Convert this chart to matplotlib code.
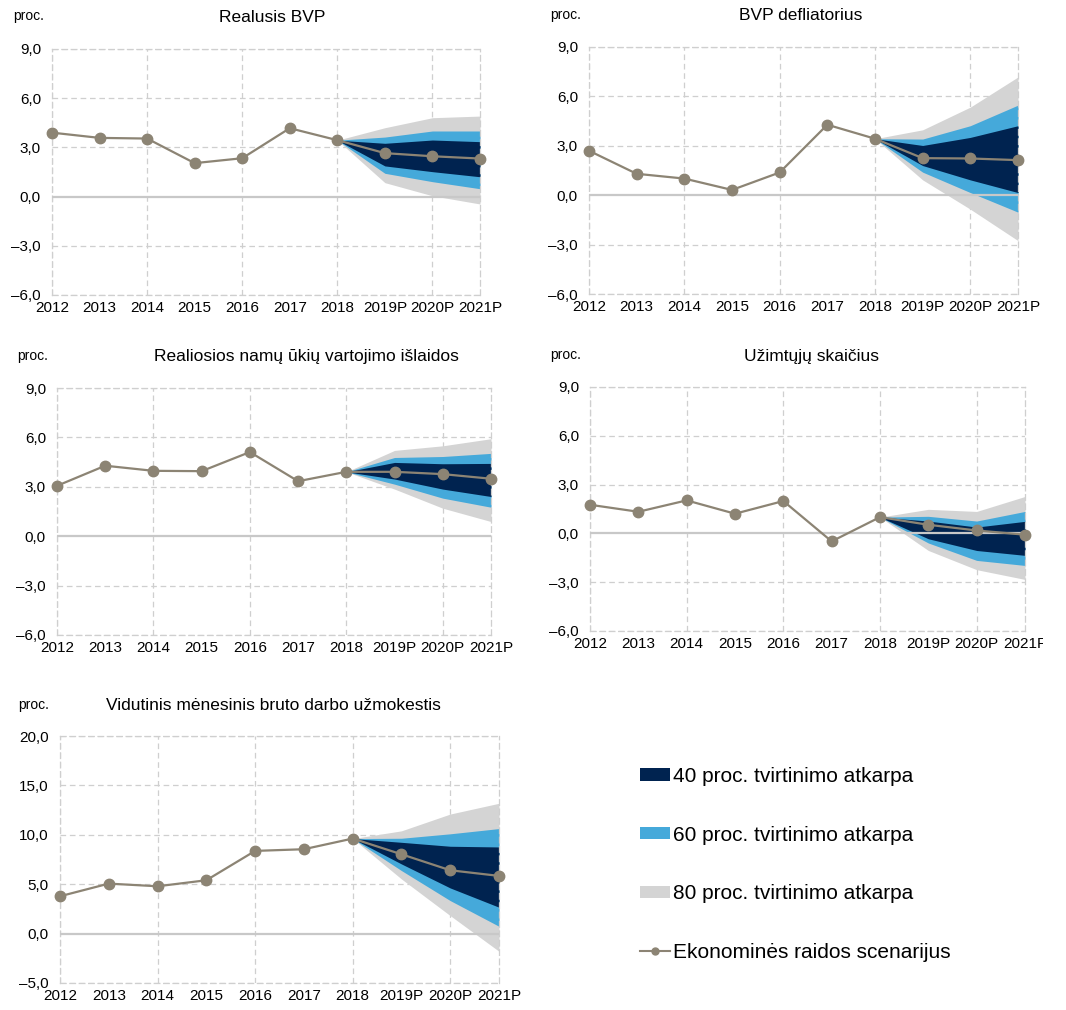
import numpy as np
import matplotlib
matplotlib.use('Agg')
import matplotlib.pyplot as plt
from matplotlib.patches import Patch
from matplotlib.lines import Line2D
from matplotlib.transforms import Bbox, TransformedBbox

plt.rcParams['font.family'] = ['Liberation Sans', 'DejaVu Sans']

years = ['2012', '2013', '2014', '2015', '2016', '2017', '2018', '2019P', '2020P', '2021P']

# scenario line + fan bounds for 2019P-2021P, as [lower, upper]
gdp_line = [3.9, 3.58, 3.54, 2.04, 2.34, 4.17, 3.44, 2.65, 2.46, 2.32]
gdp_40 = [[1.87, 1.52, 1.21], [3.25, 3.45, 3.35]]
gdp_60 = [[1.42, 0.91, 0.48], [3.63, 4.0, 4.0]]
gdp_80 = [[0.85, 0.05, -0.45], [4.2, 4.81, 4.91]]

defl_line = [2.7, 1.3, 1.01, 0.32, 1.38, 4.28, 3.43, 2.25, 2.23, 2.13]
defl_40 = [[1.8, 0.93, 0.16], [3.02, 3.51, 4.22]]
defl_60 = [[1.4, 0.16, -1.03], [3.41, 4.22, 5.47]]
defl_80 = [[0.93, -0.85, -2.76], [3.97, 5.35, 7.18]]

cons_line = [3.06, 4.28, 3.97, 3.95, 5.11, 3.34, 3.91, 3.91, 3.77, 3.49]
cons_40 = [[3.47, 2.86, 2.41], [4.48, 4.4, 4.42]]
cons_60 = [[3.16, 2.31, 1.76], [4.78, 4.84, 5.03]]
cons_80 = [[2.86, 1.7, 0.89], [5.21, 5.49, 5.92]]

empl_line = [1.76, 1.33, 2.03, 1.21, 1.99, -0.49, 1.0, 0.53, 0.18, -0.08]
empl_40 = [[-0.33, -1.05, -1.35], [0.76, 0.39, 0.74]]
empl_60 = [[-0.59, -1.66, -1.97], [1.05, 0.76, 1.35]]
empl_80 = [[-1.05, -2.23, -2.83], [1.48, 1.35, 2.27]]

wage_line = [3.78, 5.06, 4.79, 5.4, 8.37, 8.54, 9.62, 8.03, 6.41, 5.84]
wage_40 = [[7.05, 4.62, 2.67], [9.24, 8.84, 8.77]]
wage_60 = [[6.38, 3.34, 0.74], [9.65, 10.1, 10.63]]
wage_80 = [[5.53, 1.82, -1.79], [10.4, 12.1, 13.19]]

labels = ['40 proc. tvirtinimo atkarpa', '60 proc. tvirtinimo atkarpa',
          '80 proc. tvirtinimo atkarpa', 'Ekonominės raidos scenarijus']

c_dark = '#002350'
c_blue = '#45A9DA'
c_grey = '#D4D4D4'
c_line = '#8C8474'
c_grid = '#CFCFCF'

W, H = 1066, 1010
fig = plt.figure(figsize=(W / 100, H / 100), dpi=100)


def add_axes_px(left, top, right, bottom):
    return fig.add_axes([left / W, 1 - bottom / H, (right - left) / W, (bottom - top) / H])


def fmt(v):
    s = f'{v:.1f}'.replace('.', ',')
    return s.replace('-', '\u2013')


def draw_panel(ax, title, line, b40, b60, b80, ylim, yticks, title_xy, proc_xy):
    x = np.arange(len(years))
    xf = x[6:]
    start = line[6]
    for band, col in [(b80, c_grey), (b60, c_blue), (b40, c_dark)]:
        lo = [start] + band[0]
        hi = [start] + band[1]
        ax.fill_between(xf, lo, hi, color=col, lw=0, zorder=2)
    ax.axhline(0, color='#C8C8C8', lw=1.6, zorder=3)
    ax.plot(x, line, color=c_line, lw=1.6, marker='o', markersize=7.5,
            zorder=5, clip_on=False)

    ax.set_xlim(0, 9)
    ax.set_ylim(*ylim)
    ax.set_xticks(x)
    ax.set_xticklabels(years, fontsize=11)
    ax.set_yticks(yticks)
    ax.set_yticklabels([fmt(v) for v in yticks], fontsize=11)
    ax.tick_params(length=0)
    ax.tick_params(axis='y', pad=8)
    ax.tick_params(axis='x', pad=4)
    dash = (0, (4.5, 3))
    for v in yticks:
        if v != 0:
            ax.axhline(v, color=c_grid, lw=0.9, ls=dash, zorder=1)
    for i in range(0, 10, 2):
        ax.axvline(i, color=c_grid, lw=0.9, ls=dash, zorder=1)
    for s in ax.spines.values():
        s.set_color(c_grid)
        s.set_linewidth(0.9)
        s.set_linestyle(dash)
    fig.text(title_xy[0] / W, 1 - title_xy[1] / H, title, fontsize=12.5,
             ha='center', va='center')
    fig.text(proc_xy[0] / W, 1 - proc_xy[1] / H, 'proc.', fontsize=10,
             ha='left', va='center')


ax1 = add_axes_px(52, 49, 480, 295)
draw_panel(ax1, 'Realusis BVP', gdp_line, gdp_40, gdp_60, gdp_80,
           (-6, 9), [-6, -3, 0, 3, 6, 9], (272, 17), (13, 16))

ax2 = add_axes_px(589, 47, 1018, 294)
draw_panel(ax2, 'BVP defliatorius', defl_line, defl_40, defl_60, defl_80,
           (-6, 9), [-6, -3, 0, 3, 6, 9], (801, 16), (550, 15))

ax3 = add_axes_px(57, 388, 491, 635)
draw_panel(ax3, 'Realiosios namų ūkių vartojimo išlaidos', cons_line, cons_40, cons_60, cons_80,
           (-6, 9), [-6, -3, 0, 3, 6, 9], (306, 357), (17, 356))

ax4 = add_axes_px(590, 387, 1025, 631)
draw_panel(ax4, 'Užimtųjų skaičius', empl_line, empl_40, empl_60, empl_80,
           (-6, 9), [-6, -3, 0, 3, 6, 9], (812, 356), (550, 355))

ax5 = add_axes_px(60, 736, 499, 983)
draw_panel(ax5, 'Vidutinis mėnesinis bruto darbo užmokestis', wage_line, wage_40, wage_60, wage_80,
           (-5, 20), [-5, 0, 5, 10, 15, 20], (273, 705), (18, 705))

# the last label of the employment panel is cut by the chart border
clip = TransformedBbox(Bbox.from_extents(0, 0, 1043 / W, 1), fig.transFigure)
for lab in ax4.get_xticklabels():
    lab.set_clip_on(True)
    lab.set_clip_box(clip)

handles = [Patch(color=c_dark, lw=0), Patch(color=c_blue, lw=0), Patch(color=c_grey, lw=0),
           Line2D([], [], color=c_line, lw=1.5, marker='o', markersize=5)]
fig.legend(handles, labels, loc='upper left', bbox_to_anchor=(640 / W, 1 - 767 / H),
           frameon=False, fontsize=15, handlelength=1.45, handleheight=0.55,
           handletextpad=0.12, labelspacing=1.9, borderpad=0, borderaxespad=0)

fig.savefig('out.png', dpi=100)
